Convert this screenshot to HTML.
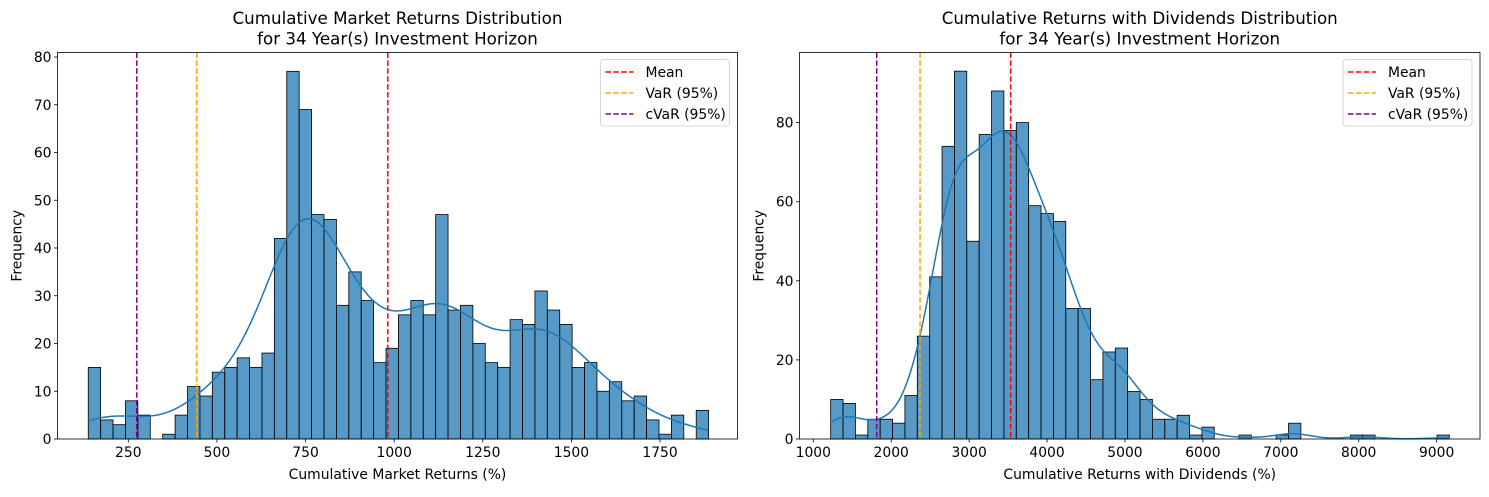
<!DOCTYPE html>
<html><head><meta charset="utf-8"><style>
html,body{margin:0;padding:0;background:#fff}
svg text{font-family:"DejaVu Sans","Liberation Sans",sans-serif;fill:#000}
</style></head><body>
<svg id="chart" width="1489" height="492" xmlns="http://www.w3.org/2000/svg"></svg>
<script>
// Left chart data
const leftCounts = [15,4,3,8,5,0,1,5,11,9,14,15,17,15,18,42,77,69,47,46,28,35,29,16,19,26,29,26,47,27,28,20,16,15,25,24,31,27,24,15,16,10,12,8,9,4,1,5,0,6];
const leftBinStart = 137;
const leftBinWidth = 35;
const leftXTicks = [250,500,750,1000,1250,1500,1750];
const leftYTicks = [0,10,20,30,40,50,60,70,80];
const leftLines = [982, 443, 274]; // mean, VaR, cVaR
// Right chart data
const rightCounts = [10,9,1,5,5,4,11,26,41,74,93,50,77,88,78,80,59,57,55,33,33,15,22,23,12,10,5,5,6,1,3,0,0,1,0,0,1,4,0,0,0,0,1,1,0,0,0,0,0,1];
const rightBinStart = 1223;
const rightBinWidth = 158.8;
const rightXTicks = [1000,2000,3000,4000,5000,6000,7000,8000,9000];
const rightYTicks = [0,20,40,60,80];
const rightLines = [3533, 2370, 1814];
const lineColors = ['#ff0000','#ffa500','#800080'];
const legendLabels = ['Mean','VaR (95%)','cVaR (95%)'];

const NS='http://www.w3.org/2000/svg';
const svg=document.getElementById('chart');
function mk(tag,attrs,parent){const e=document.createElementNS(NS,tag);for(const k in attrs)e.setAttribute(k,attrs[k]);(parent||svg).appendChild(e);return e;}

function drawChart(cfg){
  const g=mk('g',{});
  
  
  const X=v=>cfg.px0+(v-cfg.v0)*cfg.kx;
  const Y=v=>cfg.y0-v*cfg.ky;
  const {counts,binStart,binWidth}=cfg;
  counts.forEach((c,i)=>{
    if(c<=0)return;
    const x1=X(binStart+i*binWidth),x2=X(binStart+(i+1)*binWidth);
    const r=mk('rect',{x:x1,y:Y(c),width:x2-x1,height:Y(0)-Y(c),fill:'#1f77b4','fill-opacity':0.75,stroke:'#000','stroke-width':0.8},g);
    
    
  });
  let n=0,m=0;counts.forEach((c,i)=>{n+=c;m+=c*(binStart+(i+0.5)*binWidth);});m/=n;
  let vr=0;counts.forEach((c,i)=>{const d=binStart+(i+0.5)*binWidth-m;vr+=c*d*d;});vr/=n;
  const bw=Math.sqrt(vr)*Math.pow(n,-0.2);
  const lo=binStart,hi=binStart+counts.length*binWidth;
  let d='';
  for(let k=0;k<=300;k++){
    const v=lo+(hi-lo)*k/300;let s=0;
    counts.forEach((c,i)=>{const z=(v-(binStart+(i+0.5)*binWidth))/bw;s+=c*Math.exp(-0.5*z*z);});
    const dens=s/(n*bw*Math.sqrt(2*Math.PI))*n*binWidth;
    d+=(k?'L':'M')+X(v).toFixed(2)+','+Y(dens).toFixed(2);
  }
  const kde=mk('path',{d:d,fill:'none',stroke:'#1f77b4','stroke-width':1.5},g);
  
  
  const names=['mean-line','var-line','cvar-line'];
  cfg.lines.forEach((v,i)=>{
    const l=mk('line',{x1:X(v),x2:X(v),y1:cfg.top,y2:cfg.y0,stroke:lineColors[i],'stroke-width':1.5,'stroke-dasharray':'5.5,2.4'},g);
    
    
  });
  const f=mk('rect',{x:cfg.left,y:cfg.top,width:cfg.right-cfg.left,height:cfg.y0-cfg.top,fill:'none',stroke:'#000','stroke-width':0.8},g);
  
  
  cfg.xticks.forEach(t=>{
    mk('line',{x1:X(t),x2:X(t),y1:cfg.y0,y2:cfg.y0+3.5,stroke:'#000','stroke-width':0.8},g);
    const tx=mk('text',{x:X(t),y:cfg.y0+18,'text-anchor':'middle','font-size':13.9},g);
    tx.textContent=t;
    
    
  });
  cfg.yticks.forEach(t=>{
    mk('line',{x1:cfg.left-3.5,x2:cfg.left,y1:Y(t),y2:Y(t),stroke:'#000','stroke-width':0.8},g);
    const tx=mk('text',{x:cfg.left-6,y:Y(t)+5,'text-anchor':'end','font-size':13.9},g);
    tx.textContent=t;
    
    
  });
  const cx=(cfg.left+cfg.right)/2;
  const xl=mk('text',{x:cx,y:479,'text-anchor':'middle','font-size':13.9},g);
  xl.textContent=cfg.xlabel;
  
  
  const yl=mk('text',{x:0,y:0,'text-anchor':'middle','font-size':13.9,transform:`translate(${cfg.left-36},${(cfg.top+cfg.y0)/2}) rotate(-90)`},g);
  yl.textContent='Frequency';
  
  
  cfg.title.forEach((s,i)=>{
    const t=mk('text',{x:cx,y:24+i*20.5,'text-anchor':'middle','font-size':16.7},g);
    t.textContent=s;
    
    
  });
  const lx=cfg.right-137,ly=59.5;
  const lb=mk('rect',{x:lx,y:ly,width:129,height:66.5,rx:3,fill:'#fff','fill-opacity':0.8,stroke:'#ccc','stroke-width':0.8},g);
  
  
  legendLabels.forEach((s,i)=>{
    const yy=ly+12.5+i*21;
    mk('line',{x1:lx+5,x2:lx+33,y1:yy,y2:yy,stroke:lineColors[i],'stroke-width':1.5,'stroke-dasharray':'5.5,2.4'},g);
    const t=mk('text',{x:lx+45,y:yy+5,'font-size':13.9},g);
    t.textContent=s;
    
    
  });
}
drawChart({name:'market-returns-chart',counts:leftCounts,binStart:leftBinStart,binWidth:leftBinWidth,
  px0:128.3,v0:250,kx:0.3545,y0:439,ky:4.775,left:57.5,right:737.5,top:52.5,
  xticks:leftXTicks,yticks:leftYTicks,lines:leftLines,
  xlabel:'Cumulative Market Returns (%)',title:['Cumulative Market Returns Distribution','for 34 Year(s) Investment Horizon']});
drawChart({name:'dividend-returns-chart',counts:rightCounts,binStart:rightBinStart,binWidth:rightBinWidth,
  px0:813.3,v0:1000,kx:0.07792,y0:439,ky:3.955,left:799.5,right:1480,top:52.5,
  xticks:rightXTicks,yticks:rightYTicks,lines:rightLines,
  xlabel:'Cumulative Returns with Dividends (%)',title:['Cumulative Returns with Dividends Distribution','for 34 Year(s) Investment Horizon']});
</script>
</body></html>
